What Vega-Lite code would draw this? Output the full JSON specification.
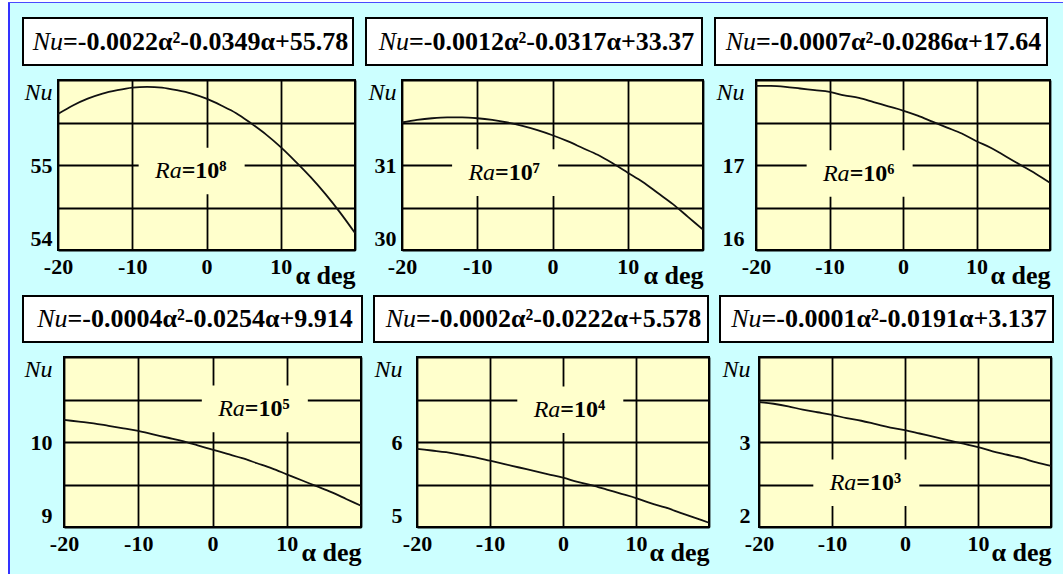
{
  "$schema": "https://vega.github.io/schema/vega-lite/v6.json",
  "background": "#ccffff",
  "padding": 0,
  "autosize": {"type": "pad"},
  "config": {
    "view": {"stroke": null},
    "font": "Liberation Serif",
    "text": {"font": "Liberation Serif", "color": "black"},
    "axis": {
      "labelFont": "Liberation Serif",
      "titleFont": "Liberation Serif",
      "labelColor": "black",
      "titleColor": "black",
      "labelFontSize": 22,
      "labelFontWeight": "bold",
      "grid": true,
      "gridColor": "black",
      "gridWidth": 1.8,
      "gridOpacity": 1,
      "domain": false,
      "ticks": false,
      "tickSize": 0,
      "labelOverlap": false,
      "labelBound": false
    }
  },
  "datasets": {
    "curves": [
      {"ra": 8, "alpha": -20, "nu": 55.60}, {"ra": 8, "alpha": -18, "nu": 55.70}, {"ra": 8, "alpha": -16, "nu": 55.78},
      {"ra": 8, "alpha": -14, "nu": 55.84}, {"ra": 8, "alpha": -12, "nu": 55.88}, {"ra": 8, "alpha": -10, "nu": 55.91},
      {"ra": 8, "alpha": -8, "nu": 55.92}, {"ra": 8, "alpha": -6, "nu": 55.91}, {"ra": 8, "alpha": -4, "nu": 55.88},
      {"ra": 8, "alpha": -2, "nu": 55.84}, {"ra": 8, "alpha": 0, "nu": 55.78}, {"ra": 8, "alpha": 2, "nu": 55.70},
      {"ra": 8, "alpha": 4, "nu": 55.61}, {"ra": 8, "alpha": 6, "nu": 55.49}, {"ra": 8, "alpha": 8, "nu": 55.36},
      {"ra": 8, "alpha": 10, "nu": 55.21}, {"ra": 8, "alpha": 12, "nu": 55.04}, {"ra": 8, "alpha": 14, "nu": 54.86},
      {"ra": 8, "alpha": 16, "nu": 54.66}, {"ra": 8, "alpha": 18, "nu": 54.44}, {"ra": 8, "alpha": 20, "nu": 54.20},

      {"ra": 7, "alpha": -20, "nu": 31.50}, {"ra": 7, "alpha": -18, "nu": 31.53}, {"ra": 7, "alpha": -16, "nu": 31.55},
      {"ra": 7, "alpha": -14, "nu": 31.56}, {"ra": 7, "alpha": -12, "nu": 31.56}, {"ra": 7, "alpha": -10, "nu": 31.55},
      {"ra": 7, "alpha": -8, "nu": 31.53}, {"ra": 7, "alpha": -6, "nu": 31.50}, {"ra": 7, "alpha": -4, "nu": 31.46},
      {"ra": 7, "alpha": -2, "nu": 31.41}, {"ra": 7, "alpha": 0, "nu": 31.35}, {"ra": 7, "alpha": 2, "nu": 31.28},
      {"ra": 7, "alpha": 4, "nu": 31.20}, {"ra": 7, "alpha": 6, "nu": 31.12}, {"ra": 7, "alpha": 8, "nu": 31.02},
      {"ra": 7, "alpha": 10, "nu": 30.91}, {"ra": 7, "alpha": 12, "nu": 30.80}, {"ra": 7, "alpha": 14, "nu": 30.67},
      {"ra": 7, "alpha": 16, "nu": 30.54}, {"ra": 7, "alpha": 18, "nu": 30.39}, {"ra": 7, "alpha": 20, "nu": 30.24},

      {"ra": 6, "alpha": -20, "nu": 17.93}, {"ra": 6, "alpha": -18, "nu": 17.93}, {"ra": 6, "alpha": -16, "nu": 17.92},
      {"ra": 6, "alpha": -14, "nu": 17.90}, {"ra": 6, "alpha": -12, "nu": 17.88}, {"ra": 6, "alpha": -10, "nu": 17.86},
      {"ra": 6, "alpha": -8, "nu": 17.82}, {"ra": 6, "alpha": -6, "nu": 17.79}, {"ra": 6, "alpha": -4, "nu": 17.74},
      {"ra": 6, "alpha": -2, "nu": 17.69}, {"ra": 6, "alpha": 0, "nu": 17.64}, {"ra": 6, "alpha": 2, "nu": 17.58},
      {"ra": 6, "alpha": 4, "nu": 17.51}, {"ra": 6, "alpha": 6, "nu": 17.44}, {"ra": 6, "alpha": 8, "nu": 17.37},
      {"ra": 6, "alpha": 10, "nu": 17.28}, {"ra": 6, "alpha": 12, "nu": 17.20}, {"ra": 6, "alpha": 14, "nu": 17.10},
      {"ra": 6, "alpha": 16, "nu": 17.00}, {"ra": 6, "alpha": 18, "nu": 16.90}, {"ra": 6, "alpha": 20, "nu": 16.79},

      {"ra": 5, "alpha": -20, "nu": 10.26}, {"ra": 5, "alpha": -18, "nu": 10.24}, {"ra": 5, "alpha": -16, "nu": 10.22},
      {"ra": 5, "alpha": -14, "nu": 10.19}, {"ra": 5, "alpha": -12, "nu": 10.16}, {"ra": 5, "alpha": -10, "nu": 10.13},
      {"ra": 5, "alpha": -8, "nu": 10.09}, {"ra": 5, "alpha": -6, "nu": 10.05}, {"ra": 5, "alpha": -4, "nu": 10.01},
      {"ra": 5, "alpha": -2, "nu": 9.96}, {"ra": 5, "alpha": 0, "nu": 9.91}, {"ra": 5, "alpha": 2, "nu": 9.86},
      {"ra": 5, "alpha": 4, "nu": 9.81}, {"ra": 5, "alpha": 6, "nu": 9.75}, {"ra": 5, "alpha": 8, "nu": 9.69},
      {"ra": 5, "alpha": 10, "nu": 9.62}, {"ra": 5, "alpha": 12, "nu": 9.55}, {"ra": 5, "alpha": 14, "nu": 9.48},
      {"ra": 5, "alpha": 16, "nu": 9.41}, {"ra": 5, "alpha": 18, "nu": 9.33}, {"ra": 5, "alpha": 20, "nu": 9.25},

      {"ra": 4, "alpha": -20, "nu": 5.92}, {"ra": 4, "alpha": -18, "nu": 5.90}, {"ra": 4, "alpha": -16, "nu": 5.88},
      {"ra": 4, "alpha": -14, "nu": 5.85}, {"ra": 4, "alpha": -12, "nu": 5.82}, {"ra": 4, "alpha": -10, "nu": 5.78},
      {"ra": 4, "alpha": -8, "nu": 5.74}, {"ra": 4, "alpha": -6, "nu": 5.70}, {"ra": 4, "alpha": -4, "nu": 5.66},
      {"ra": 4, "alpha": -2, "nu": 5.62}, {"ra": 4, "alpha": 0, "nu": 5.58}, {"ra": 4, "alpha": 2, "nu": 5.53},
      {"ra": 4, "alpha": 4, "nu": 5.49}, {"ra": 4, "alpha": 6, "nu": 5.44}, {"ra": 4, "alpha": 8, "nu": 5.39},
      {"ra": 4, "alpha": 10, "nu": 5.34}, {"ra": 4, "alpha": 12, "nu": 5.28}, {"ra": 4, "alpha": 14, "nu": 5.23},
      {"ra": 4, "alpha": 16, "nu": 5.17}, {"ra": 4, "alpha": 18, "nu": 5.11}, {"ra": 4, "alpha": 20, "nu": 5.05},

      {"ra": 3, "alpha": -20, "nu": 3.47}, {"ra": 3, "alpha": -18, "nu": 3.45}, {"ra": 3, "alpha": -16, "nu": 3.42},
      {"ra": 3, "alpha": -14, "nu": 3.38}, {"ra": 3, "alpha": -12, "nu": 3.35}, {"ra": 3, "alpha": -10, "nu": 3.32},
      {"ra": 3, "alpha": -8, "nu": 3.28}, {"ra": 3, "alpha": -6, "nu": 3.25}, {"ra": 3, "alpha": -4, "nu": 3.21},
      {"ra": 3, "alpha": -2, "nu": 3.17}, {"ra": 3, "alpha": 0, "nu": 3.14}, {"ra": 3, "alpha": 2, "nu": 3.10},
      {"ra": 3, "alpha": 4, "nu": 3.06}, {"ra": 3, "alpha": 6, "nu": 3.02}, {"ra": 3, "alpha": 8, "nu": 2.98},
      {"ra": 3, "alpha": 10, "nu": 2.94}, {"ra": 3, "alpha": 12, "nu": 2.89}, {"ra": 3, "alpha": 14, "nu": 2.85},
      {"ra": 3, "alpha": 16, "nu": 2.81}, {"ra": 3, "alpha": 18, "nu": 2.76}, {"ra": 3, "alpha": 20, "nu": 2.72}
    ],
    "tags": [
      {"ra": 8, "alpha": -2.0, "nu": 54.93, "label": "=10⁸"},
      {"ra": 7, "alpha": -6.3, "nu": 30.91, "label": "=10⁷"},
      {"ra": 6, "alpha": -5.9, "nu": 16.90, "label": "=10⁶"},
      {"ra": 5, "alpha": 5.7, "nu": 10.39, "label": "=10⁵"},
      {"ra": 4, "alpha": 1.0, "nu": 6.38, "label": "=10⁴"},
      {"ra": 3, "alpha": -5.3, "nu": 2.52, "label": "=10³"}
    ],
    "eqs": [
      {"ra": 8, "rhs": "=-0.0022α²-0.0349α+55.78"},
      {"ra": 7, "rhs": "=-0.0012α²-0.0317α+33.37"},
      {"ra": 6, "rhs": "=-0.0007α²-0.0286α+17.64"},
      {"ra": 5, "rhs": "=-0.0004α²-0.0254α+9.914"},
      {"ra": 4, "rhs": "=-0.0002α²-0.0222α+5.578"},
      {"ra": 3, "rhs": "=-0.0001α²-0.0191α+3.137"}
    ]
  },
  "spacing": 0,
  "vconcat": [
    {"width": 1063, "height": 2, "view": {"fill": "white"}, "data": {"values": []}, "mark": "point", "encoding": {}},
    {
      "spacing": 0,
      "hconcat": [
        {"width": 8, "height": 1, "view": {"fill": "white"}, "data": {"values": []}, "mark": "point", "encoding": {}},
        {"width": 1055, "height": 1, "view": {"fill": "#4a4aff"}, "data": {"values": []}, "mark": "point", "encoding": {}}
      ]
    },
    {
      "spacing": 0,
      "hconcat": [
        {"width": 8, "height": 571, "view": {"fill": "white"}, "data": {"values": []}, "mark": "point", "encoding": {}},
        {"width": 2, "height": 571, "view": {"fill": "#3333ff"}, "data": {"values": []}, "mark": "point", "encoding": {}},
        {
          "spacing": 6,
          "vconcat": [
            {"width": 1, "height": 8, "data": {"values": []}, "mark": "point", "encoding": {}},
            {
              "columns": 2,
              "align": "none",
              "spacing": {"row": 13, "column": 11},
              "concat": [
                {"width": 1, "height": 1, "data": {"values": []}, "mark": "point", "encoding": {}},
                {
                  "spacing": 11,
                  "hconcat": [
                    {"width": 330, "height": 47, "view": {"fill": "white", "stroke": "black", "strokeWidth": 2},
                     "data": {"name": "eqs"}, "transform": [{"filter": "datum.ra == 8"}],
                     "layer": [
                       {"mark": {"type": "text", "text": "Nu", "fontStyle": "italic", "fontSize": 26, "align": "right", "baseline": "middle", "dx": -125}, "encoding": {}},
                       {"mark": {"type": "text", "fontWeight": "bold", "fontSize": 26, "align": "left", "baseline": "middle", "dx": -125}, "encoding": {"text": {"field": "rhs", "type": "nominal"}}}
                     ]},
                    {"width": 336, "height": 47, "view": {"fill": "white", "stroke": "black", "strokeWidth": 2},
                     "data": {"name": "eqs"}, "transform": [{"filter": "datum.ra == 7"}],
                     "layer": [
                       {"mark": {"type": "text", "text": "Nu", "fontStyle": "italic", "fontSize": 26, "align": "right", "baseline": "middle", "dx": -125}, "encoding": {}},
                       {"mark": {"type": "text", "fontWeight": "bold", "fontSize": 26, "align": "left", "baseline": "middle", "dx": -125}, "encoding": {"text": {"field": "rhs", "type": "nominal"}}}
                     ]},
                    {"width": 332, "height": 47, "view": {"fill": "white", "stroke": "black", "strokeWidth": 2},
                     "data": {"name": "eqs"}, "transform": [{"filter": "datum.ra == 6"}],
                     "layer": [
                       {"mark": {"type": "text", "text": "Nu", "fontStyle": "italic", "fontSize": 26, "align": "right", "baseline": "middle", "dx": -125}, "encoding": {}},
                       {"mark": {"type": "text", "fontWeight": "bold", "fontSize": 26, "align": "left", "baseline": "middle", "dx": -125}, "encoding": {"text": {"field": "rhs", "type": "nominal"}}}
                     ]}
                  ]
                },
                {"width": 1, "height": 1, "data": {"values": []}, "mark": "point", "encoding": {}},
                {
                  "spacing": 6,
                  "hconcat": [
                    {
                      "width": 297, "height": 170,
                      "view": {"fill": "#ffffcc", "stroke": "black", "strokeWidth": 2},
                      "encoding": {
                        "x": {"field": "alpha", "type": "quantitative", "scale": {"domain": [-20, 20], "nice": false, "zero": false},
                              "axis": {"values": [-20, -10, 0, 10, 20], "labelExpr": "datum.value == 20 ? '' : '' + datum.value", "labelFlush": false, "labelPadding": 6,
                                       "title": "α deg", "titleFontSize": 26, "titleFontWeight": "bold", "titleAnchor": "end", "titleAlign": "right", "titleBaseline": "alphabetic", "titleY": 33}},
                        "y": {"field": "nu", "type": "quantitative", "scale": {"domain": [54, 56], "nice": false, "zero": false},
                              "axis": {"values": [54, 54.5, 55, 55.5, 56], "labelExpr": "datum.value == 56 ? 'Nu\u00a0' : (datum.value % 1 ? '' : '' + datum.value)", "labelFlush": true, "labelPadding": 6, "title": null,
                                       "labelFontStyle": {"condition": {"test": "datum.value == 56", "value": "italic"}, "value": "normal"},
                                       "labelFontWeight": {"condition": {"test": "datum.value == 56", "value": "normal"}, "value": "bold"},
                                       "labelFontSize": {"condition": {"test": "datum.value == 56", "value": 24}, "value": 22}}}
                      },
                      "layer": [
                        {"data": {"name": "curves"}, "transform": [{"filter": "datum.ra == 8"}], "mark": {"type": "line", "color": "#111111", "strokeWidth": 1.8, "interpolate": "monotone"}},
                        {"data": {"name": "tags"}, "transform": [{"filter": "datum.ra == 8"}], "mark": {"type": "point", "shape": "M-1,-0.44L1,-0.44L1,0.44L-1,0.44Z", "size": 11236, "filled": true, "color": "#ffffcc", "opacity": 1, "strokeWidth": 0}},
                        {"data": {"name": "tags"}, "transform": [{"filter": "datum.ra == 8"}], "mark": {"type": "text", "text": "Ra", "fontStyle": "italic", "fontSize": 24, "align": "right", "baseline": "middle", "dx": -10}},
                        {"data": {"name": "tags"}, "transform": [{"filter": "datum.ra == 8"}], "mark": {"type": "text", "fontWeight": "bold", "fontSize": 24, "align": "left", "baseline": "middle", "dx": -10}, "encoding": {"text": {"field": "label", "type": "nominal"}}}
                      ]
                    },
                    {
                      "width": 301, "height": 170,
                      "view": {"fill": "#ffffcc", "stroke": "black", "strokeWidth": 2},
                      "encoding": {
                        "x": {"field": "alpha", "type": "quantitative", "scale": {"domain": [-20, 20], "nice": false, "zero": false},
                              "axis": {"values": [-20, -10, 0, 10, 20], "labelExpr": "datum.value == 20 ? '' : '' + datum.value", "labelFlush": false, "labelPadding": 6,
                                       "title": "α deg", "titleFontSize": 26, "titleFontWeight": "bold", "titleAnchor": "end", "titleAlign": "right", "titleBaseline": "alphabetic", "titleY": 33}},
                        "y": {"field": "nu", "type": "quantitative", "scale": {"domain": [30, 32], "nice": false, "zero": false},
                              "axis": {"values": [30, 30.5, 31, 31.5, 32], "labelExpr": "datum.value == 32 ? 'Nu\u00a0' : (datum.value % 1 ? '' : '' + datum.value)", "labelFlush": true, "labelPadding": 6, "title": null,
                                       "labelFontStyle": {"condition": {"test": "datum.value == 32", "value": "italic"}, "value": "normal"},
                                       "labelFontWeight": {"condition": {"test": "datum.value == 32", "value": "normal"}, "value": "bold"},
                                       "labelFontSize": {"condition": {"test": "datum.value == 32", "value": 24}, "value": 22}}}
                      },
                      "layer": [
                        {"data": {"name": "curves"}, "transform": [{"filter": "datum.ra == 7"}], "mark": {"type": "line", "color": "#111111", "strokeWidth": 1.8, "interpolate": "monotone"}},
                        {"data": {"name": "tags"}, "transform": [{"filter": "datum.ra == 7"}], "mark": {"type": "point", "shape": "M-1,-0.44L1,-0.44L1,0.44L-1,0.44Z", "size": 11236, "filled": true, "color": "#ffffcc", "opacity": 1, "strokeWidth": 0}},
                        {"data": {"name": "tags"}, "transform": [{"filter": "datum.ra == 7"}], "mark": {"type": "text", "text": "Ra", "fontStyle": "italic", "fontSize": 24, "align": "right", "baseline": "middle", "dx": -10}},
                        {"data": {"name": "tags"}, "transform": [{"filter": "datum.ra == 7"}], "mark": {"type": "text", "fontWeight": "bold", "fontSize": 24, "align": "left", "baseline": "middle", "dx": -10}, "encoding": {"text": {"field": "label", "type": "nominal"}}}
                      ]
                    },
                    {
                      "width": 294, "height": 170,
                      "view": {"fill": "#ffffcc", "stroke": "black", "strokeWidth": 2},
                      "encoding": {
                        "x": {"field": "alpha", "type": "quantitative", "scale": {"domain": [-20, 20], "nice": false, "zero": false},
                              "axis": {"values": [-20, -10, 0, 10, 20], "labelExpr": "datum.value == 20 ? '' : '' + datum.value", "labelFlush": false, "labelPadding": 6,
                                       "title": "α deg", "titleFontSize": 26, "titleFontWeight": "bold", "titleAnchor": "end", "titleAlign": "right", "titleBaseline": "alphabetic", "titleY": 33}},
                        "y": {"field": "nu", "type": "quantitative", "scale": {"domain": [16, 18], "nice": false, "zero": false},
                              "axis": {"values": [16, 16.5, 17, 17.5, 18], "labelExpr": "datum.value == 18 ? 'Nu\u00a0' : (datum.value % 1 ? '' : '' + datum.value)", "labelFlush": true, "labelPadding": 12, "title": null,
                                       "labelFontStyle": {"condition": {"test": "datum.value == 18", "value": "italic"}, "value": "normal"},
                                       "labelFontWeight": {"condition": {"test": "datum.value == 18", "value": "normal"}, "value": "bold"},
                                       "labelFontSize": {"condition": {"test": "datum.value == 18", "value": 24}, "value": 22}}}
                      },
                      "layer": [
                        {"data": {"name": "curves"}, "transform": [{"filter": "datum.ra == 6"}], "mark": {"type": "line", "color": "#111111", "strokeWidth": 1.8, "interpolate": "monotone"}},
                        {"data": {"name": "tags"}, "transform": [{"filter": "datum.ra == 6"}], "mark": {"type": "point", "shape": "M-1,-0.44L1,-0.44L1,0.44L-1,0.44Z", "size": 11236, "filled": true, "color": "#ffffcc", "opacity": 1, "strokeWidth": 0}},
                        {"data": {"name": "tags"}, "transform": [{"filter": "datum.ra == 6"}], "mark": {"type": "text", "text": "Ra", "fontStyle": "italic", "fontSize": 24, "align": "right", "baseline": "middle", "dx": -10}},
                        {"data": {"name": "tags"}, "transform": [{"filter": "datum.ra == 6"}], "mark": {"type": "text", "fontWeight": "bold", "fontSize": 24, "align": "left", "baseline": "middle", "dx": -10}, "encoding": {"text": {"field": "label", "type": "nominal"}}}
                      ]
                    }
                  ]
                }
              ]
            },
            {
              "columns": 2,
              "align": "none",
              "spacing": {"row": 13, "column": 11},
              "concat": [
                {"width": 1, "height": 1, "data": {"values": []}, "mark": "point", "encoding": {}},
                {
                  "spacing": 10,
                  "hconcat": [
                    {"width": 339, "height": 46, "view": {"fill": "white", "stroke": "black", "strokeWidth": 2},
                     "data": {"name": "eqs"}, "transform": [{"filter": "datum.ra == 5"}],
                     "layer": [
                       {"mark": {"type": "text", "text": "Nu", "fontStyle": "italic", "fontSize": 26, "align": "right", "baseline": "middle", "dx": -125}, "encoding": {}},
                       {"mark": {"type": "text", "fontWeight": "bold", "fontSize": 26, "align": "left", "baseline": "middle", "dx": -125}, "encoding": {"text": {"field": "rhs", "type": "nominal"}}}
                     ]},
                    {"width": 334, "height": 46, "view": {"fill": "white", "stroke": "black", "strokeWidth": 2},
                     "data": {"name": "eqs"}, "transform": [{"filter": "datum.ra == 4"}],
                     "layer": [
                       {"mark": {"type": "text", "text": "Nu", "fontStyle": "italic", "fontSize": 26, "align": "right", "baseline": "middle", "dx": -125}, "encoding": {}},
                       {"mark": {"type": "text", "fontWeight": "bold", "fontSize": 26, "align": "left", "baseline": "middle", "dx": -125}, "encoding": {"text": {"field": "rhs", "type": "nominal"}}}
                     ]},
                    {"width": 333, "height": 46, "view": {"fill": "white", "stroke": "black", "strokeWidth": 2},
                     "data": {"name": "eqs"}, "transform": [{"filter": "datum.ra == 3"}],
                     "layer": [
                       {"mark": {"type": "text", "text": "Nu", "fontStyle": "italic", "fontSize": 26, "align": "right", "baseline": "middle", "dx": -125}, "encoding": {}},
                       {"mark": {"type": "text", "fontWeight": "bold", "fontSize": 26, "align": "left", "baseline": "middle", "dx": -125}, "encoding": {"text": {"field": "rhs", "type": "nominal"}}}
                     ]}
                  ]
                },
                {"width": 1, "height": 1, "data": {"values": []}, "mark": "point", "encoding": {}},
                {
                  "spacing": 6,
                  "hconcat": [
                    {
                      "width": 297, "height": 170,
                      "view": {"fill": "#ffffcc", "stroke": "black", "strokeWidth": 2},
                      "encoding": {
                        "x": {"field": "alpha", "type": "quantitative", "scale": {"domain": [-20, 20], "nice": false, "zero": false},
                              "axis": {"values": [-20, -10, 0, 10, 20], "labelExpr": "datum.value == 20 ? '' : '' + datum.value", "labelFlush": false, "labelPadding": 6,
                                       "title": "α deg", "titleFontSize": 26, "titleFontWeight": "bold", "titleAnchor": "end", "titleAlign": "right", "titleBaseline": "alphabetic", "titleY": 33}},
                        "y": {"field": "nu", "type": "quantitative", "scale": {"domain": [9, 11], "nice": false, "zero": false},
                              "axis": {"values": [9, 9.5, 10, 10.5, 11], "labelExpr": "datum.value == 11 ? 'Nu\u00a0' : (datum.value % 1 ? '' : '' + datum.value)", "labelFlush": true, "labelPadding": 12, "title": null,
                                       "labelFontStyle": {"condition": {"test": "datum.value == 11", "value": "italic"}, "value": "normal"},
                                       "labelFontWeight": {"condition": {"test": "datum.value == 11", "value": "normal"}, "value": "bold"},
                                       "labelFontSize": {"condition": {"test": "datum.value == 11", "value": 24}, "value": 22}}}
                      },
                      "layer": [
                        {"data": {"name": "curves"}, "transform": [{"filter": "datum.ra == 5"}], "mark": {"type": "line", "color": "#111111", "strokeWidth": 1.8, "interpolate": "monotone"}},
                        {"data": {"name": "tags"}, "transform": [{"filter": "datum.ra == 5"}], "mark": {"type": "point", "shape": "M-1,-0.44L1,-0.44L1,0.44L-1,0.44Z", "size": 11236, "filled": true, "color": "#ffffcc", "opacity": 1, "strokeWidth": 0}},
                        {"data": {"name": "tags"}, "transform": [{"filter": "datum.ra == 5"}], "mark": {"type": "text", "text": "Ra", "fontStyle": "italic", "fontSize": 24, "align": "right", "baseline": "middle", "dx": -10}},
                        {"data": {"name": "tags"}, "transform": [{"filter": "datum.ra == 5"}], "mark": {"type": "text", "fontWeight": "bold", "fontSize": 24, "align": "left", "baseline": "middle", "dx": -10}, "encoding": {"text": {"field": "label", "type": "nominal"}}}
                      ]
                    },
                    {
                      "width": 292, "height": 170,
                      "view": {"fill": "#ffffcc", "stroke": "black", "strokeWidth": 2},
                      "encoding": {
                        "x": {"field": "alpha", "type": "quantitative", "scale": {"domain": [-20, 20], "nice": false, "zero": false},
                              "axis": {"values": [-20, -10, 0, 10, 20], "labelExpr": "datum.value == 20 ? '' : '' + datum.value", "labelFlush": false, "labelPadding": 6,
                                       "title": "α deg", "titleFontSize": 26, "titleFontWeight": "bold", "titleAnchor": "end", "titleAlign": "right", "titleBaseline": "alphabetic", "titleY": 33}},
                        "y": {"field": "nu", "type": "quantitative", "scale": {"domain": [5, 7], "nice": false, "zero": false},
                              "axis": {"values": [5, 5.5, 6, 6.5, 7], "labelExpr": "datum.value == 7 ? 'Nu\u00a0' : (datum.value % 1 ? '' : '' + datum.value)", "labelFlush": true, "labelPadding": 15, "title": null,
                                       "labelFontStyle": {"condition": {"test": "datum.value == 7", "value": "italic"}, "value": "normal"},
                                       "labelFontWeight": {"condition": {"test": "datum.value == 7", "value": "normal"}, "value": "bold"},
                                       "labelFontSize": {"condition": {"test": "datum.value == 7", "value": 24}, "value": 22}}}
                      },
                      "layer": [
                        {"data": {"name": "curves"}, "transform": [{"filter": "datum.ra == 4"}], "mark": {"type": "line", "color": "#111111", "strokeWidth": 1.8, "interpolate": "monotone"}},
                        {"data": {"name": "tags"}, "transform": [{"filter": "datum.ra == 4"}], "mark": {"type": "point", "shape": "M-1,-0.44L1,-0.44L1,0.44L-1,0.44Z", "size": 11236, "filled": true, "color": "#ffffcc", "opacity": 1, "strokeWidth": 0}},
                        {"data": {"name": "tags"}, "transform": [{"filter": "datum.ra == 4"}], "mark": {"type": "text", "text": "Ra", "fontStyle": "italic", "fontSize": 24, "align": "right", "baseline": "middle", "dx": -10}},
                        {"data": {"name": "tags"}, "transform": [{"filter": "datum.ra == 4"}], "mark": {"type": "text", "fontWeight": "bold", "fontSize": 24, "align": "left", "baseline": "middle", "dx": -10}, "encoding": {"text": {"field": "label", "type": "nominal"}}}
                      ]
                    },
                    {
                      "width": 292, "height": 170,
                      "view": {"fill": "#ffffcc", "stroke": "black", "strokeWidth": 2},
                      "encoding": {
                        "x": {"field": "alpha", "type": "quantitative", "scale": {"domain": [-20, 20], "nice": false, "zero": false},
                              "axis": {"values": [-20, -10, 0, 10, 20], "labelExpr": "datum.value == 20 ? '' : '' + datum.value", "labelFlush": false, "labelPadding": 6,
                                       "title": "α deg", "titleFontSize": 26, "titleFontWeight": "bold", "titleAnchor": "end", "titleAlign": "right", "titleBaseline": "alphabetic", "titleY": 33}},
                        "y": {"field": "nu", "type": "quantitative", "scale": {"domain": [2, 4], "nice": false, "zero": false},
                              "axis": {"values": [2, 2.5, 3, 3.5, 4], "labelExpr": "datum.value == 4 ? 'Nu\u00a0' : (datum.value % 1 ? '' : '' + datum.value)", "labelFlush": true, "labelPadding": 9, "title": null,
                                       "labelFontStyle": {"condition": {"test": "datum.value == 4", "value": "italic"}, "value": "normal"},
                                       "labelFontWeight": {"condition": {"test": "datum.value == 4", "value": "normal"}, "value": "bold"},
                                       "labelFontSize": {"condition": {"test": "datum.value == 4", "value": 24}, "value": 22}}}
                      },
                      "layer": [
                        {"data": {"name": "curves"}, "transform": [{"filter": "datum.ra == 3"}], "mark": {"type": "line", "color": "#111111", "strokeWidth": 1.8, "interpolate": "monotone"}},
                        {"data": {"name": "tags"}, "transform": [{"filter": "datum.ra == 3"}], "mark": {"type": "point", "shape": "M-1,-0.44L1,-0.44L1,0.44L-1,0.44Z", "size": 11236, "filled": true, "color": "#ffffcc", "opacity": 1, "strokeWidth": 0}},
                        {"data": {"name": "tags"}, "transform": [{"filter": "datum.ra == 3"}], "mark": {"type": "text", "text": "Ra", "fontStyle": "italic", "fontSize": 24, "align": "right", "baseline": "middle", "dx": -10}},
                        {"data": {"name": "tags"}, "transform": [{"filter": "datum.ra == 3"}], "mark": {"type": "text", "fontWeight": "bold", "fontSize": 24, "align": "left", "baseline": "middle", "dx": -10}, "encoding": {"text": {"field": "label", "type": "nominal"}}}
                      ]
                    }
                  ]
                }
              ]
            }
          ]
        }
      ]
    }
  ]
}
